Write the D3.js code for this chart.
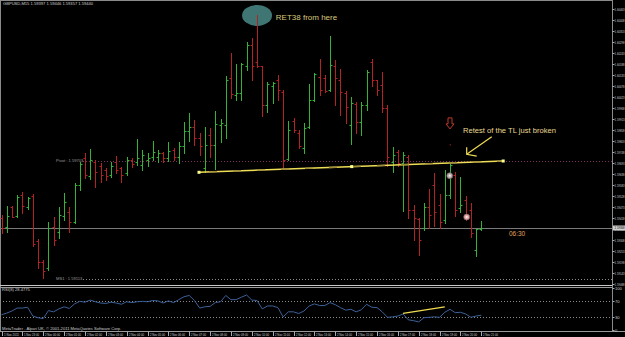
<!DOCTYPE html>
<html><head><meta charset="utf-8">
<script src="https://cdn.jsdelivr.net/npm/d3@7"></script>
<style>html,body{margin:0;padding:0;background:#000;overflow:hidden}</style>
</head><body><svg id="c" width="625" height="337"></svg>
<script>
// ---------------- data ----------------
const timeLabels = ["1 Nov 2011","1 Nov 23:00","2 Nov 00:00","2 Nov 01:00","2 Nov 02:00","2 Nov 03:00","2 Nov 04:00","2 Nov 05:00","2 Nov 06:00","2 Nov 07:00","2 Nov 08:00","2 Nov 09:00","2 Nov 10:00","2 Nov 11:00","2 Nov 12:00","2 Nov 13:00","2 Nov 14:00","2 Nov 15:00","2 Nov 16:00","2 Nov 17:00","2 Nov 18:00","2 Nov 19:00","2 Nov 20:00","2 Nov 21:00"];
const barsPerLabel = 4;
const open = [1.59418,1.59373,1.59473,1.59428,1.59533,1.59473,1.59528,1.59303,1.59198,1.59168,
1.59373,1.59348,1.59428,1.59448,1.59398,1.59583,1.59718,1.59628,1.59698,1.59678,
1.59658,1.59633,1.59698,1.59668,1.59643,1.59708,1.59698,1.59683,1.59708,1.59723,
1.59723,1.59743,1.59718,1.59758,1.59723,1.59778,1.59853,1.59873,1.59818,1.59668,
1.59833,1.59783,1.59883,1.59883,1.60118,1.60033,1.60043,1.60178,1.60283,1.60198,
1.60178,1.59983,1.60078,1.60108,1.60048,1.59713,1.59903,1.59843,1.59768,1.59873,
1.60008,1.60123,1.60118,1.60058,1.60178,1.60108,1.60043,1.59883,1.59988,1.59898,
1.59983,1.60198,1.60108,1.60083,1.59968,1.59698,1.59748,1.59693,1.59723,1.59458,
1.59413,1.59368,1.59473,1.59583,1.59483,1.59408,1.59533,1.59633,1.59468,1.59508,
1.59458,1.59258,1.59363];
const high = [1.59433,1.59478,1.59478,1.59533,1.59548,1.59523,1.59538,1.59313,1.59208,1.59398,
1.59423,1.59473,1.59543,1.59473,1.59593,1.59698,1.59743,1.59763,1.59708,1.59693,
1.59668,1.59698,1.59728,1.59673,1.59723,1.59718,1.59813,1.59758,1.59743,1.59803,
1.59758,1.59748,1.59798,1.59768,1.59798,1.59898,1.59943,1.59908,1.59843,1.59873,
1.59868,1.59953,1.59913,1.60128,1.60243,1.60188,1.60193,1.60298,1.60318,1.60433,
1.60178,1.60098,1.60098,1.60133,1.60058,1.59903,1.59918,1.59858,1.59893,1.60088,
1.60143,1.60213,1.60133,1.60328,1.60208,1.60163,1.60053,1.60023,1.59998,1.59998,
1.60158,1.60213,1.60108,1.60148,1.59983,1.59773,1.59758,1.59748,1.59733,1.59483,
1.59418,1.59493,1.59563,1.59643,1.59538,1.59658,1.59693,1.59648,1.59623,1.59528,
1.59493,1.59363,1.59403];
const low = [1.59343,1.59348,1.59423,1.59423,1.59443,1.59463,1.59278,1.59168,1.59118,1.59158,
1.59283,1.59318,1.59408,1.59348,1.59393,1.59558,1.59618,1.59613,1.59573,1.59598,
1.59608,1.59623,1.59643,1.59598,1.59633,1.59673,1.59683,1.59658,1.59678,1.59708,
1.59698,1.59698,1.59703,1.59708,1.59693,1.59743,1.59803,1.59783,1.59733,1.59648,
1.59723,1.59663,1.59798,1.59818,1.60018,1.60008,1.60008,1.60158,1.60108,1.60173,
1.59928,1.59948,1.59993,1.60008,1.59668,1.59708,1.59848,1.59768,1.59743,1.59868,
1.60003,1.60033,1.60048,1.60053,1.59983,1.59933,1.59893,1.59788,1.59843,1.59833,
1.59958,1.60078,1.60033,1.59948,1.59678,1.59648,1.59678,1.59453,1.59418,1.59308,
1.59233,1.59358,1.59368,1.59378,1.59368,1.59393,1.59518,1.59428,1.59448,1.59408,
1.59323,1.59228,1.59358];
const close = [1.59368,1.59428,1.59423,1.59523,1.59478,1.59518,1.59288,1.59198,1.59153,1.59368,
1.59308,1.59433,1.59498,1.59398,1.59583,1.59688,1.59633,1.59708,1.59648,1.59633,
1.59628,1.59678,1.59658,1.59633,1.59708,1.59688,1.59718,1.59733,1.59718,1.59748,
1.59743,1.59718,1.59753,1.59723,1.59778,1.59853,1.59873,1.59818,1.59778,1.59783,
1.59783,1.59888,1.59893,1.60108,1.60038,1.60043,1.60188,1.60283,1.60178,1.60178,
1.59983,1.60088,1.60093,1.60058,1.59708,1.59858,1.59858,1.59778,1.59868,1.60008,
1.60138,1.60058,1.60053,1.60183,1.60118,1.60048,1.59973,1.59993,1.59898,1.59983,
1.60148,1.60108,1.60058,1.59968,1.59723,1.59733,1.59693,1.59733,1.59458,1.59418,
1.59308,1.59473,1.59433,1.59448,1.59398,1.59533,1.59683,1.59458,1.59483,1.59418,
1.59343,1.59363,1.59368];
const rsi = [36,40,45,52,52,54,33,29,27,46,43,50,55,51,62,68,66,71,67,64,
63,66,64,61,67,65,67,68,67,70,69,64,69,65,72,79,82,70,52,55,
56,65,67,82,72,72,78,83,71,70,50,57,57,53,31,43,43,39,45,57,
62,58,58,65,60,53,47,49,43,48,61,54,53,43,30,31,33,38,24,22,
19,29,30,31,30,42,49,41,42,38,30,33,35];
const priceTicks = [1.60463,1.60408,1.60353,1.60298,1.60243,1.60188,1.60133,1.60078,1.60023,1.59968,
1.59913,1.59858,1.59803,1.59748,1.59693,1.59638,1.59583,1.59528,1.59473,1.59418,
1.59363,1.59308,1.59253,1.59198,1.59143,1.59088];
const rsiTicks = [100,70,30,0];
const rsiLevels = [70,30];
const pivot = 1.59703, ms1 = 1.59113, bid = 1.59368;
const header = "GBPUSD,M15  1.59397 1.59446 1.59357 1.59440";
const rsiTitle = "RSI(8) 28.4775";
const copyright = "MetaTrader - Alpari UK, \u00A9 2001-2011 MetaQuotes Software Corp.";
// drawn objects (bar index, price)
const trendLine = [{i:37.87,p:1.596465},{i:67.15,p:1.59675},{i:96.2,p:1.59703}];
const rsiTrend = [{i:77,v:39.5},{i:85,v:55}];
const ellipseAt = {i:49,p:1.60431};
const retText = {i:52.6,p:1.604245,t:"RET38 from here"};
const retestText = {i:88.5,p:1.59858,t:"Retest of the TL just broken"};
const arrowFrom = {i:94.0,p:1.598245}, arrowTo = {i:89.2,p:1.597365};
const downArrow = {i:86,p:1.59891};
const markers = [{i:85.95,p:1.596295,c:"#b9a9a9"},{i:89.2,p:1.59423,c:"#e3a3a3"}];
const timer = {i:97.3,p:1.59338,t:"06:30"};

// ---------------- drawing ----------------
const svg = d3.select("#c");
const W = 625, H = 337, R = 612.5;
svg.append("rect").attr("width",W).attr("height",H).attr("fill","#000");
const x = d3.scaleLinear().domain([0, open.length-1]).range([1.5, 481.3]);
const y = d3.scaleLinear().domain([1.59088, 1.60463]).range([284, 9]);
const yR = d3.scaleLinear().domain([0,100]).range([329.9, 287.9]);
const small = "font-family:'Liberation Sans',Arial,sans-serif;font-size:4.1px;fill:#cfcfcf";
const axisFont = "font-family:'Liberation Sans',Arial,sans-serif;font-size:2.75px;fill:#cfcfcf";

// borders
const g0 = svg.append("g").attr("stroke","#8a8a8a").attr("stroke-width",1);
g0.append("line").attr("x1",0).attr("x2",R).attr("y1",0.5).attr("y2",0.5);
g0.append("line").attr("x1",0.5).attr("x2",0.5).attr("y1",0).attr("y2",331);
g0.append("line").attr("x1",R).attr("x2",R).attr("y1",0).attr("y2",331.5);
g0.append("line").attr("x1",0).attr("x2",R).attr("y1",285.5).attr("y2",285.5).attr("stroke","#c8c8c8");
g0.append("line").attr("x1",0).attr("x2",R).attr("y1",287.5).attr("y2",287.5).attr("stroke","#9a9a9a");
g0.append("line").attr("x1",0).attr("x2",W).attr("y1",331.5).attr("y2",331.5).attr("stroke","#9a9a9a");

// price axis
const pa = svg.append("g");
priceTicks.forEach(v=>{
  const yy = Math.round(y(v))+0.5;
  pa.append("line").attr("x1",R).attr("x2",R+2).attr("y1",yy).attr("y2",yy).attr("stroke","#aaa");
  pa.append("text").attr("transform",`translate(614.6,${yy}) scale(1,1.5)`).attr("dy","0.35em").attr("style",axisFont)
    .text(d3.format(".5f")(v));
});
// bid box
pa.append("rect").attr("x",613).attr("y",y(bid)-2.5).attr("width",12).attr("height",5).attr("fill","#d0d0d0");
pa.append("text").attr("transform",`translate(614.6,${y(bid)}) scale(1,1.5)`).attr("dy","0.35em").attr("style",axisFont+";fill:#000")
  .text(d3.format(".5f")(bid));

// rsi axis
rsiTicks.forEach(v=>{
  const yy = Math.round(yR(v))+0.5;
  pa.append("line").attr("x1",R).attr("x2",R+2).attr("y1",yy).attr("y2",yy).attr("stroke","#aaa");
  pa.append("text").attr("x",615).attr("y",yy).attr("dy","0.35em").attr("style",small).text(v);
});

// time axis
timeLabels.forEach((t,k)=>{
  const xx = Math.round(x(k*barsPerLabel))+0.5;
  svg.append("line").attr("x1",xx).attr("x2",xx).attr("y1",331.5).attr("y2",336).attr("stroke","#aaa");
  svg.append("text").attr("x",xx+1.5).attr("y",334.6).attr("dy","0.35em").attr("style",small)
    .attr("textLength",15).attr("lengthAdjust","spacingAndGlyphs").text(t);
});

// texts
svg.append("text").attr("x",3).attr("y",3.5).attr("dy","0.35em").attr("style",small).text(header);
svg.append("text").attr("x",2).attr("y",289.8).attr("dy","0.35em").attr("style",small).text(rsiTitle);
svg.append("text").attr("x",2).attr("y",328.6).attr("dy","0.35em").attr("style",small).text(copyright);

// horizontal levels
svg.append("line").attr("x1",0).attr("x2",R).attr("y1",Math.round(y(bid))+0.5).attr("y2",Math.round(y(bid))+0.5).attr("stroke","#7a7a7a");
svg.append("line").attr("x1",83).attr("x2",R).attr("y1",Math.round(y(pivot))+0.5).attr("y2",Math.round(y(pivot))+0.5)
  .attr("stroke","#7d2f62").attr("stroke-dasharray","1,2");
svg.append("text").attr("x",56).attr("y",y(pivot)).attr("dy","0.35em").attr("style",small+";fill:#9a9a9a").text("Pivot : "+pivot.toFixed(5));
svg.append("line").attr("x1",83).attr("x2",R).attr("y1",Math.round(y(ms1))+0.5).attr("y2",Math.round(y(ms1))+0.5)
  .attr("stroke","#8a8a8a").attr("stroke-dasharray","1,2");
svg.append("text").attr("x",56).attr("y",y(ms1)).attr("dy","0.35em").attr("style",small+";fill:#9a9a9a").text("MS1 : "+ms1.toFixed(5));

// ellipse annotation
svg.append("ellipse").attr("cx",x(ellipseAt.i)).attr("cy",y(ellipseAt.p)).attr("rx",15).attr("ry",10.5).attr("fill","#3f7673");

// bars
const bars = svg.append("g");
open.forEach((o,i)=>{
  const up = close[i] >= o;
  const col = up ? "#36b336" : "#b32323";
  const xx = Math.round(x(i))+0.5;
  bars.append("line").attr("x1",xx).attr("x2",xx).attr("y1",y(high[i])).attr("y2",y(low[i])+1).attr("stroke",col);
  bars.append("line").attr("x1",xx-2).attr("x2",xx).attr("y1",Math.round(y(o))+0.5).attr("y2",Math.round(y(o))+0.5).attr("stroke",col);
  bars.append("line").attr("x1",xx).attr("x2",xx+2).attr("y1",Math.round(y(close[i]))+0.5).attr("y2",Math.round(y(close[i]))+0.5).attr("stroke",col);
});

// trend line
svg.append("line").attr("x1",x(trendLine[0].i)).attr("y1",y(trendLine[0].p)).attr("x2",x(trendLine[2].i)).attr("y2",y(trendLine[2].p))
  .attr("stroke","#eedd55").attr("stroke-width",1.4);
svg.append("line").attr("x1",x(trendLine[0].i)).attr("y1",y(trendLine[0].p)).attr("x2",x(trendLine[2].i)).attr("y2",y(trendLine[2].p))
  .attr("stroke","#9c8a3a").attr("stroke-width",1.4).attr("stroke-dasharray","8,16").attr("stroke-dashoffset",-10);
trendLine.forEach(d=>svg.append("rect").attr("x",x(d.i)-1.5).attr("y",y(d.p)-1.5).attr("width",3).attr("height",3).attr("fill","#ffff8c"));

// markers
markers.forEach(m=>{
  svg.append("circle").attr("cx",x(m.i)).attr("cy",y(m.p)).attr("r",3).attr("fill",m.c).attr("stroke","#6d5d5d").attr("stroke-width",0.6);
  svg.append("circle").attr("cx",x(m.i)).attr("cy",y(m.p)).attr("r",1.1).attr("fill","#f4eeee");
});

// red hollow down arrow
{
  const cx = x(downArrow.i), cy = y(downArrow.p);
  const p = d3.path();
  p.moveTo(cx-2, cy-5.5); p.lineTo(cx+2, cy-5.5); p.lineTo(cx+2, cy+0.5); p.lineTo(cx+4, cy+0.5);
  p.lineTo(cx, cy+5.5); p.lineTo(cx-4, cy+0.5); p.lineTo(cx-2, cy+0.5); p.closePath();
  svg.append("path").attr("d",p.toString()).attr("fill","none").attr("stroke","#c0392b").attr("stroke-width",1);
  svg.append("rect").attr("x",cx-0.5).attr("y",cy+21).attr("width",1.5).attr("height",1).attr("fill","#a02020");
}

// yellow arrow
{
  const x1 = x(arrowFrom.i), y1 = y(arrowFrom.p), x2 = x(arrowTo.i), y2 = y(arrowTo.p);
  const ga = svg.append("g").attr("stroke","#f0dc50").attr("stroke-width",1.2).attr("fill","none");
  ga.append("line").attr("x1",x1).attr("y1",y1).attr("x2",x2).attr("y2",y2);
  ga.append("path").attr("d",`M${x2},${y2-7}L${x2},${y2}L${x2+10},${y2+1.8}`);
}

// texts annotations
svg.append("text").attr("x",x(retText.i)).attr("y",y(retText.p)).attr("dy","0.35em")
  .attr("style","font-family:'Liberation Sans',Arial,sans-serif;font-size:8px;fill:#d9c97c").text(retText.t);
svg.append("text").attr("x",x(retestText.i)).attr("y",y(retestText.p)).attr("dy","0.35em")
  .attr("style","font-family:'Liberation Sans',Arial,sans-serif;font-size:7.6px;fill:#e9da92").text(retestText.t);
svg.append("text").attr("x",x(timer.i)).attr("y",y(timer.p)).attr("dy","0.35em")
  .attr("style","font-family:'Liberation Sans',Arial,sans-serif;font-size:6.5px;fill:#e0a25a").text(timer.t);

// RSI
rsiLevels.forEach(v=>{
  svg.append("line").attr("x1",0).attr("x2",R).attr("y1",Math.round(yR(v))+0.5).attr("y2",Math.round(yR(v))+0.5)
    .attr("stroke","#8a8a8a").attr("stroke-dasharray","1,2");
});
svg.append("path").datum(rsi).attr("fill","none").attr("stroke","#3c6199").attr("stroke-width",1)
  .attr("d", d3.line().x((d,i)=>x(i)).y(d=>yR(d)));
svg.append("line").attr("x1",x(rsiTrend[0].i)).attr("y1",yR(rsiTrend[0].v)).attr("x2",x(rsiTrend[1].i)).attr("y2",yR(rsiTrend[1].v))
  .attr("stroke","#f0dc50").attr("stroke-width",1.3);
</script></body></html>
